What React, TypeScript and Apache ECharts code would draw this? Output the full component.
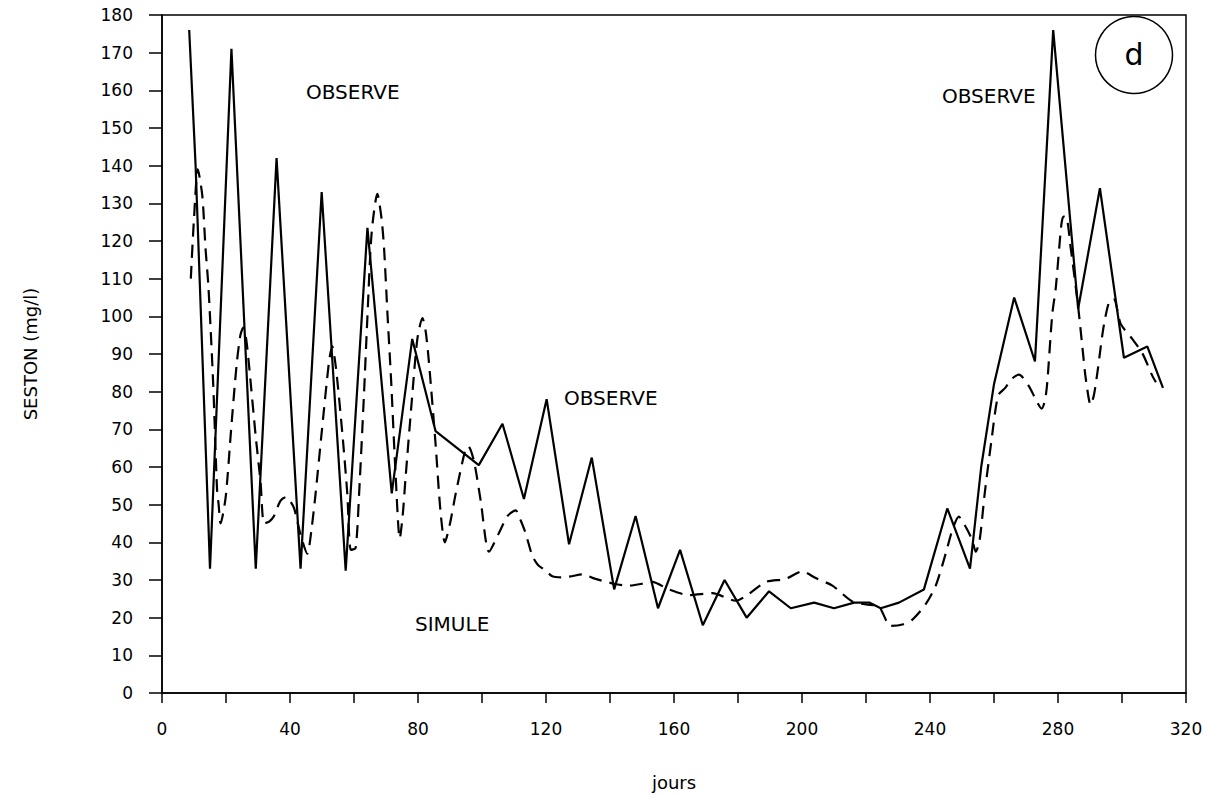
import React, { useEffect, useRef } from "react";
import * as echarts from "echarts";

// Observed seston (solid line): sampling day / value (mg/l)
const obsDays = [8.5, 10.5, 15, 21.7, 29.3, 35.8, 43.3, 49.9, 57.4, 64.2, 71.8, 78.2, 85.5, 99, 106.4, 113.1, 120.2, 127.2, 134.3, 141.3, 148, 155, 161.9, 169, 175.8, 182.7, 189.7, 196.5, 203.8, 210, 216.3, 221, 224.6, 230.3, 238.1, 245.4, 252.5, 256, 260, 266.3, 272.8, 278.5, 286.3, 293.1, 300.6, 307.9, 312.8];
const obsValues = [176, 140, 33, 171, 33, 142, 33, 133, 32.5, 123.5, 53, 94, 69.5, 60.5, 71.5, 51.5, 78, 39.5, 62.5, 27.5, 47, 22.5, 38, 18, 30, 20, 27, 22.5, 24, 22.5, 24, 24, 22.5, 24, 27.5, 49, 33, 60, 82, 105, 88, 176, 102, 134, 89, 92, 81];

// Simulated seston (dashed line)
const simDays = [9, 10, 11.2, 12.6, 13.6, 14.5, 16, 17.2, 17.7, 18.3, 19.9, 21.6, 23.3, 24.5, 25.4, 26.3, 27.2, 29.3, 30.8, 31.9, 33.5, 35, 37, 38.7, 40, 41.3, 43.3, 45.4, 46.8, 48, 50, 52.2, 53.2, 54.4, 56.4, 57.9, 59, 60.5, 61.6, 63.1, 64.2, 65.5, 67.3, 68.6, 69.4, 70.5, 71.6, 73, 74.3, 75.2, 76.1, 78.2, 79.8, 81.4, 82.4, 83.4, 85.5, 87, 88.4, 90, 91.8, 94.9, 95.7, 97.5, 99.6, 102.2, 105.3, 108, 110.5, 112, 113.6, 115.7, 117.5, 119.9, 122, 125.1, 128, 131.3, 135.5, 141.3, 146, 150, 153.2, 158.4, 164.7, 172, 179.3, 183.4, 188.7, 194.9, 200.1, 204.3, 209.5, 215.7, 220, 224, 227.7, 231.4, 234.5, 238.6, 241.8, 244.9, 247, 249, 251.1, 253.2, 254.3, 255.5, 257.1, 259.2, 261.3, 263.5, 265.7, 267.8, 270.9, 273, 274.9, 276, 276.7, 278.2, 279.3, 281, 281.7, 282.5, 284, 286.3, 287.6, 288.7, 290.2, 291.2, 292.3, 294.4, 296.5, 297.5, 299.6, 303.2, 306.3, 309.5, 310.6];
const simValues = [110, 126, 139, 132, 118, 108, 82, 54, 50, 45, 52, 70, 87, 95, 97, 94, 87, 68, 56, 45, 45.5, 47, 51, 52, 51, 49, 42, 37, 44, 53, 70, 88, 92, 86, 68.5, 53, 38, 38.5, 53, 79, 100, 122, 132.5, 126, 118, 100, 83, 58, 41, 47, 57, 79, 94, 99.5, 96, 88, 66, 48.5, 40, 45, 53, 65, 65.5, 61.5, 51, 37.5, 42.5, 47, 48.5, 46, 42.5, 36.5, 34, 32.5, 31, 30.7, 31, 31.5, 30.3, 29, 28.5, 29, 29.5, 27.5, 26, 26.5, 24.5, 26.3, 29.5, 30.3, 32.3, 30.5, 28.5, 24.3, 23.5, 23, 17.8, 18.2, 19.5, 23.5, 28.5, 37, 43.3, 46.8, 44.2, 40.6, 37.5, 40.5, 53, 67, 79, 81, 83.5, 84.5, 81.5, 78, 75.5, 78, 83, 100.5, 107.5, 124, 126.5, 126.5, 118, 102.5, 92, 83.3, 76.5, 79, 85, 98, 104.5, 104.5, 98, 94, 90.3, 84.2, 82.5];

const xTicks = [0, 40, 80, 120, 160, 200, 240, 280, 320];
const annotations = [
  { text: "OBSERVE", x: 306, y: 92 },
  { text: "OBSERVE", x: 564, y: 398 },
  { text: "OBSERVE", x: 942, y: 96 },
  { text: "SIMULE", x: 415, y: 624 },
];

const FONT = "DejaVu Sans";

export default function App() {
  const ref = useRef<HTMLDivElement>(null);
  useEffect(() => {
    if (!ref.current) return;
    const chart = echarts.init(ref.current, null, { renderer: "svg" });
    const obs = obsDays.map((d, i) => [d, obsValues[i]]);
    const sim = simDays.map((d, i) => [d, simValues[i]]);
    const axisLine = { show: true, lineStyle: { color: "#000", width: 1.5 } };
    chart.setOption({
      animation: false,
      backgroundColor: "#fff",
      grid: {
        left: 162,
        right: 38,
        top: 15,
        bottom: 95,
        show: true,
        borderColor: "#000",
        borderWidth: 1.5,
        backgroundColor: "transparent",
      },
      xAxis: {
        type: "value",
        min: 0,
        max: 320,
        interval: 20,
        name: "jours",
        nameLocation: "middle",
        nameGap: 80,
        nameTextStyle: { fontFamily: FONT, fontSize: 18, color: "#000" },
        axisLine,
        axisTick: { show: true, inside: false, length: 10, lineStyle: { color: "#000", width: 1.5 } },
        axisLabel: {
          margin: 27,
          fontFamily: FONT,
          fontSize: 17,
          color: "#000",
          formatter: (v: number) => (xTicks.includes(v) ? String(v) : ""),
        },
        splitLine: { show: false },
      },
      yAxis: {
        type: "value",
        min: 0,
        max: 180,
        interval: 10,
        name: "SESTON (mg/l)",
        nameLocation: "middle",
        nameGap: 123,
        nameRotate: 90,
        nameTextStyle: { fontFamily: FONT, fontSize: 18, color: "#000" },
        axisLine,
        axisTick: { show: true, inside: false, length: 13, lineStyle: { color: "#000", width: 1.5 } },
        axisLabel: { margin: 29, fontFamily: FONT, fontSize: 17, color: "#000" },
        splitLine: { show: false },
      },
      series: [
        {
          name: "OBSERVE",
          type: "line",
          data: obs,
          showSymbol: false,
          symbol: "none",
          lineStyle: { color: "#000", width: 2.2 },
        },
        {
          name: "SIMULE",
          type: "line",
          data: sim,
          showSymbol: false,
          symbol: "none",
          smooth: 0.25,
          lineStyle: { color: "#000", width: 2.2, type: [13, 8] },
        },
      ],
      graphic: [
        ...annotations.map((a) => ({
          type: "text",
          x: a.x,
          y: a.y,
          style: {
            text: a.text,
            fontFamily: FONT,
            fontSize: 20,
            fill: "#000",
            verticalAlign: "middle",
          },
        })),
        {
          type: "circle",
          shape: { cx: 1134, cy: 55, r: 38.5 },
          style: { fill: "none", stroke: "#000", lineWidth: 1.5 },
        },
        {
          type: "text",
          x: 1134,
          y: 54,
          style: {
            text: "d",
            fontFamily: FONT,
            fontSize: 30,
            fill: "#000",
            align: "center",
            verticalAlign: "middle",
          },
        },
      ],
    });
    return () => chart.dispose();
  }, []);
  return (
    <div
      ref={ref}
      style={{ position: "fixed", left: 0, top: 0, width: 1224, height: 796, background: "#fff" }}
    />
  );
}
